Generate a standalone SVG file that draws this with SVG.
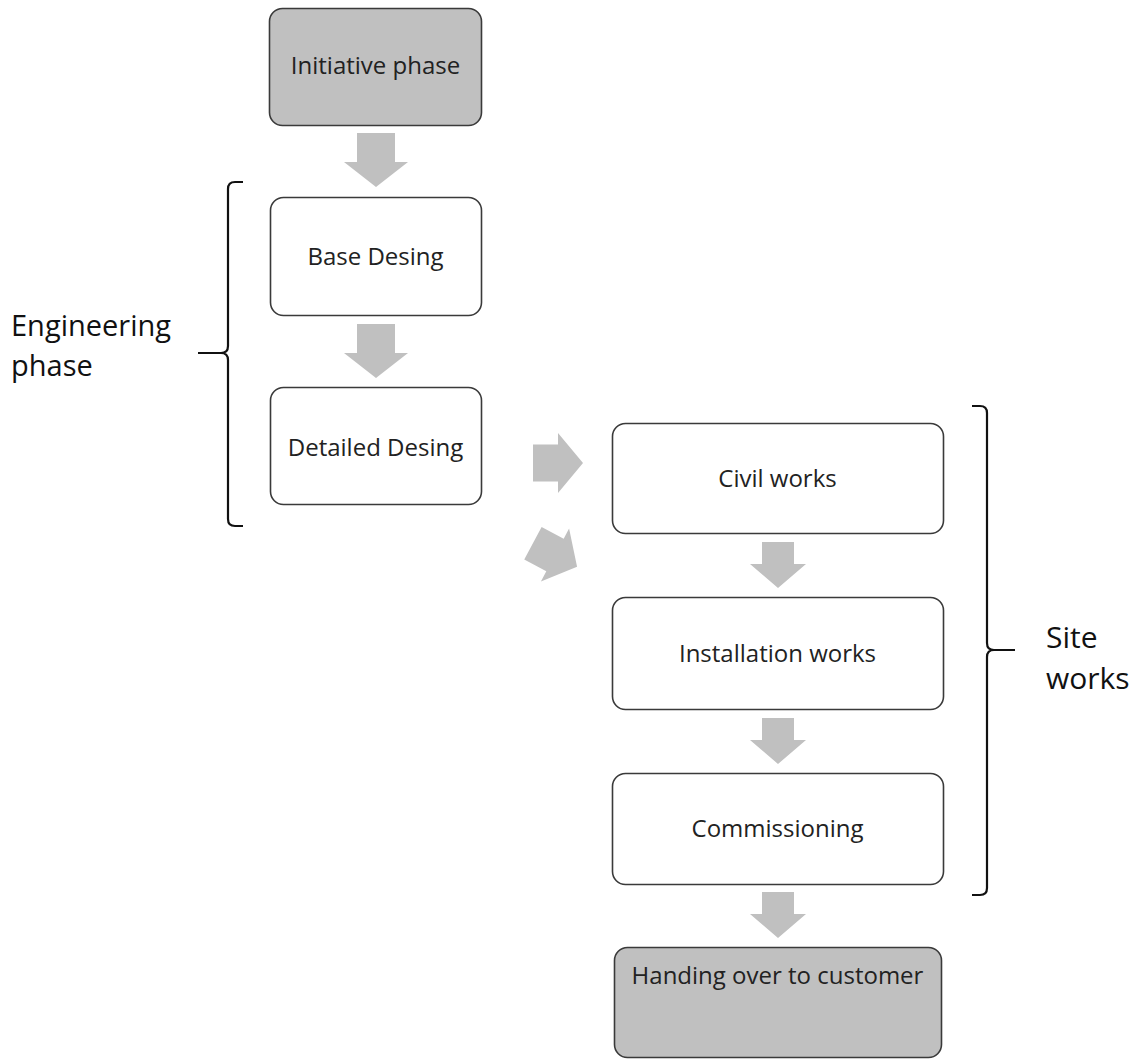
<svg xmlns="http://www.w3.org/2000/svg" width="1140" height="1059" viewBox="0 0 1140 1059">
<style>
.box{fill:#ffffff;stroke:#3a3a3a;stroke-width:1.6}
.grey{fill:#c0c0c0}
.t{font-family:"Open Sans","Noto Sans",sans-serif;font-size:24px;fill:#222222;text-anchor:middle}
.lbl{font-family:"Open Sans","Noto Sans",sans-serif;font-size:30px;fill:#111111}
.arr{fill:#c0c0c0;stroke:none}
.br{fill:none;stroke:#111111;stroke-width:2.2}
</style>
<defs>
<polygon id="dA" points="-19,0 19,0 19,29 32,29 0,54 -32,29 -19,29"/>
<polygon id="dB" points="-16,0 16,0 16,22 28,22 0,46 -28,22 -16,22"/>
<polygon id="rA" points="-25,-18.5 0,-18.5 0,-30 25,0 0,30 0,18.5 -25,18.5"/>
</defs>
<rect width="1140" height="1059" fill="#ffffff"/>
<g id="connectors">
<use href="#dA" class="arr" x="376" y="133"/>
<use href="#dA" class="arr" x="376" y="324"/>
<use href="#rA" class="arr" transform="translate(558,463)"/>
<use href="#rA" class="arr" transform="translate(555,555) rotate(28)"/>
<use href="#dB" class="arr" x="778" y="542"/>
<use href="#dB" class="arr" x="778" y="718"/>
<use href="#dB" class="arr" x="778" y="892"/>
</g>
<g id="initiative">
<rect class="box grey" x="269.5" y="8.5" width="212" height="117" rx="13"/>
<text class="t" x="375.5" y="74">Initiative phase</text>
</g>
<g id="base-desing">
<rect class="box" x="270.5" y="197.5" width="211" height="118" rx="13"/>
<text class="t" x="375.5" y="265">Base Desing</text>
</g>
<g id="detailed-desing">
<rect class="box" x="270.5" y="387.5" width="211" height="117" rx="13"/>
<text class="t" x="375.5" y="456">Detailed Desing</text>
</g>
<g id="civil-works">
<rect class="box" x="612.5" y="423.5" width="331" height="110" rx="13"/>
<text class="t" x="777.5" y="487">Civil works</text>
</g>
<g id="installation-works">
<rect class="box" x="612.5" y="597.5" width="331" height="112" rx="13"/>
<text class="t" x="777.5" y="662">Installation works</text>
</g>
<g id="commissioning">
<rect class="box" x="612.5" y="773.5" width="331" height="111" rx="13"/>
<text class="t" x="777.5" y="837">Commissioning</text>
</g>
<g id="handing-over">
<rect class="box grey" x="614.5" y="947.5" width="327" height="110" rx="13"/>
<text class="t" x="777.5" y="984">Handing over to customer</text>
</g>
<g id="engineering-phase">
<path class="br" d="M243,182 L235,182 Q228,182 228,189 L228,346 Q228,353 221,353 L198,353 M221,353 Q228,353 228,360 L228,519 Q228,526 235,526 L243,526"/>
<text class="lbl" x="11" y="336" style="font-size:29px">Engineering</text>
<text class="lbl" x="11" y="376" style="font-size:29px">phase</text>
</g>
<g id="site-works">
<path class="br" d="M972,406 L980,406 Q987,406 987,413 L987,643 Q987,650 994,650 L1015,650 M994,650 Q987,650 987,657 L987,888 Q987,895 980,895 L972,895"/>
<text class="lbl" x="1046" y="648">Site</text>
<text class="lbl" x="1046" y="689">works</text>
</g>
</svg>
